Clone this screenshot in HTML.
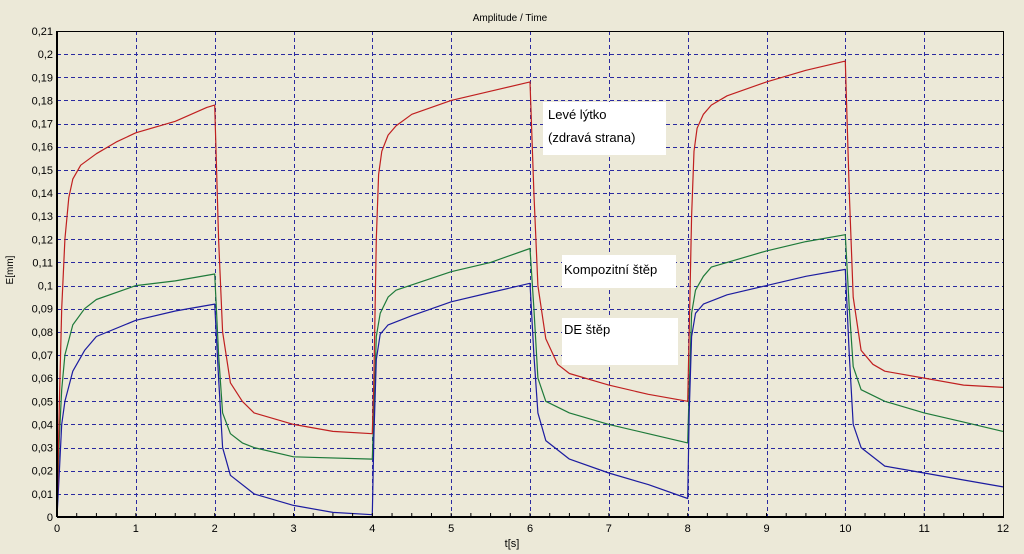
<!DOCTYPE html>
<html><head><meta charset="utf-8"><style>
body{margin:0;background:#ece9d8;width:1024px;height:554px;overflow:hidden;font-family:"Liberation Sans",sans-serif}
svg{display:block}
</style></head><body>
<svg id="chart" width="1024" height="554" xmlns="http://www.w3.org/2000/svg">
<rect x="0" y="0" width="1024" height="554" fill="#ece9d8"/>
<text x="510" y="21" font-size="10" text-anchor="middle" fill="#000">Amplitude / Time</text>
<text transform="translate(13,270) rotate(-90)" font-size="10" text-anchor="middle" fill="#000">E[mm]</text>
<text x="512" y="547" font-size="11" text-anchor="middle" fill="#000">t[s]</text>
<g id="grid"></g><g id="series"></g><g id="axes"></g>
<g>
<rect x="543" y="102" width="123" height="53" fill="#fff"/>
<text x="548" y="119" font-size="13" fill="#000">Levé lýtko</text>
<text x="548" y="142" font-size="13" fill="#000">(zdravá strana)</text></g>
<g>
<rect x="562" y="255" width="114" height="33" fill="#fff"/>
<text x="564" y="274" font-size="13" fill="#000">Kompozitní štěp</text></g>
<g>
<rect x="562" y="318" width="116" height="47" fill="#fff"/>
<text x="564" y="334" font-size="13" fill="#000">DE štěp</text></g>
</svg>
<script>
const xTicks=[0,1,2,3,4,5,6,7,8,9,10,11,12];
const yTicks=[0,0.01,0.02,0.03,0.04,0.05,0.06,0.07,0.08,0.09,0.1,0.11,0.12,0.13,0.14,0.15,0.16,0.17,0.18,0.19,0.2,0.21];
const redT=[0,0.03,0.06,0.1,0.15,0.2,0.3,0.5,0.75,1,1.5,1.9,2.0,2.05,2.1,2.2,2.35,2.5,3,3.5,4.0,4.02,4.05,4.08,4.12,4.2,4.3,4.5,5,5.5,6.0,6.05,6.1,6.2,6.35,6.5,7,7.5,8.0,8.02,8.05,8.08,8.12,8.2,8.3,8.5,9,9.5,10,10.05,10.1,10.2,10.35,10.5,11,11.5,12];
const redV=[0,0.05,0.09,0.12,0.138,0.146,0.152,0.157,0.162,0.166,0.171,0.177,0.178,0.12,0.08,0.058,0.05,0.045,0.04,0.037,0.036,0.06,0.12,0.148,0.158,0.165,0.169,0.174,0.18,0.184,0.188,0.14,0.1,0.077,0.066,0.062,0.057,0.053,0.05,0.08,0.13,0.158,0.168,0.174,0.178,0.182,0.188,0.193,0.197,0.14,0.095,0.072,0.066,0.063,0.06,0.057,0.056];
const greenT=[0,0.03,0.06,0.1,0.2,0.35,0.5,1,1.5,2,2.05,2.1,2.2,2.35,2.5,3,4,4.02,4.05,4.1,4.2,4.3,5,5.5,6,6.05,6.1,6.2,6.5,7,7.5,8,8.02,8.05,8.1,8.2,8.3,9,9.5,10,10.05,10.1,10.2,10.5,11,11.5,12];
const greenV=[0,0.035,0.055,0.07,0.083,0.09,0.094,0.1,0.102,0.105,0.07,0.045,0.036,0.032,0.03,0.026,0.025,0.045,0.078,0.088,0.095,0.098,0.106,0.11,0.116,0.09,0.06,0.05,0.045,0.04,0.036,0.032,0.055,0.088,0.098,0.104,0.108,0.115,0.119,0.122,0.09,0.065,0.055,0.05,0.045,0.041,0.037];
const blueT=[0,0.03,0.06,0.1,0.2,0.35,0.5,1,1.5,2,2.05,2.1,2.2,2.5,3,3.5,4,4.02,4.05,4.1,4.2,4.5,5,5.5,6,6.05,6.1,6.2,6.5,7,7.5,8,8.02,8.05,8.1,8.2,8.5,9,9.5,10,10.05,10.1,10.2,10.5,11,11.5,12];
const blueV=[0,0.02,0.04,0.05,0.063,0.072,0.078,0.085,0.089,0.092,0.06,0.03,0.018,0.01,0.005,0.002,0.001,0.035,0.068,0.079,0.083,0.087,0.093,0.097,0.101,0.07,0.045,0.033,0.025,0.019,0.014,0.008,0.045,0.078,0.088,0.092,0.096,0.1,0.104,0.107,0.07,0.04,0.03,0.022,0.019,0.016,0.013];

const L=57,R=1003,T=31,B=517;
const xs=t=>L+(t/12)*(R-L);
const ys=v=>B-(v/0.21)*(B-T);
const NS="http://www.w3.org/2000/svg";
function mk(tag,attrs,parent){const e=document.createElementNS(NS,tag);for(const k in attrs)e.setAttribute(k,attrs[k]);parent.appendChild(e);return e;}
const grid=document.getElementById('grid'),axes=document.getElementById('axes'),ser=document.getElementById('series');
xTicks.forEach(t=>{
 if(t>0&&t<12){const x=Math.round(xs(t))+0.5;const g=mk('line',{x1:x,x2:x,y1:T,y2:B,stroke:'#2a2aa0','stroke-dasharray':'4,3','stroke-width':1},grid);
 
 }
 const tx=mk('text',{x:xs(t),y:B+15,'font-size':11,'text-anchor':'middle',fill:'#000'},axes);tx.textContent=t;
 
 
});
for(let q=0;q<48;q++){const m=mk('line',{x1:xs(q/4),x2:xs(q/4),y1:B,y2:B-4,stroke:'#000'},axes);
 
 }
yTicks.forEach(v=>{
 if(v>0&&v<0.21){const y=Math.round(ys(v))+0.5;const g=mk('line',{x1:L,x2:R,y1:y,y2:y,stroke:'#2a2aa0','stroke-dasharray':'4,3','stroke-width':1},grid);
 
 }
 const tx=mk('text',{x:L-4,y:ys(v)+4,'font-size':11,'text-anchor':'end',fill:'#000'},axes);tx.textContent=String(+v.toFixed(2)).replace('.',',');
 
 
});
const fr=mk('rect',{x:L+0.5,y:T+0.5,width:R-L,height:B-T,fill:'none',stroke:'#000','stroke-width':1},axes);


const la=mk('line',{x1:L,x2:L,y1:T,y2:B,stroke:'#000','stroke-width':2},axes);


const ba=mk('line',{x1:L,x2:R,y1:B,y2:B,stroke:'#000','stroke-width':2},axes);


function series(T_,V_,col,name){const d=T_.map((t,i)=>(i?'L':'M')+xs(t).toFixed(1)+','+ys(V_[i]).toFixed(1)).join('');
 const p=mk('path',{d:d,fill:'none',stroke:col,'stroke-width':1.2,'stroke-linejoin':'round'},ser);
 
 }
series(greenT,greenV,'#1e7a3a','series-kompozitni-step');
series(blueT,blueV,'#1c1ca0','series-de-step');
series(redT,redV,'#c02020','series-leve-lytko');
</script>
</body></html>
